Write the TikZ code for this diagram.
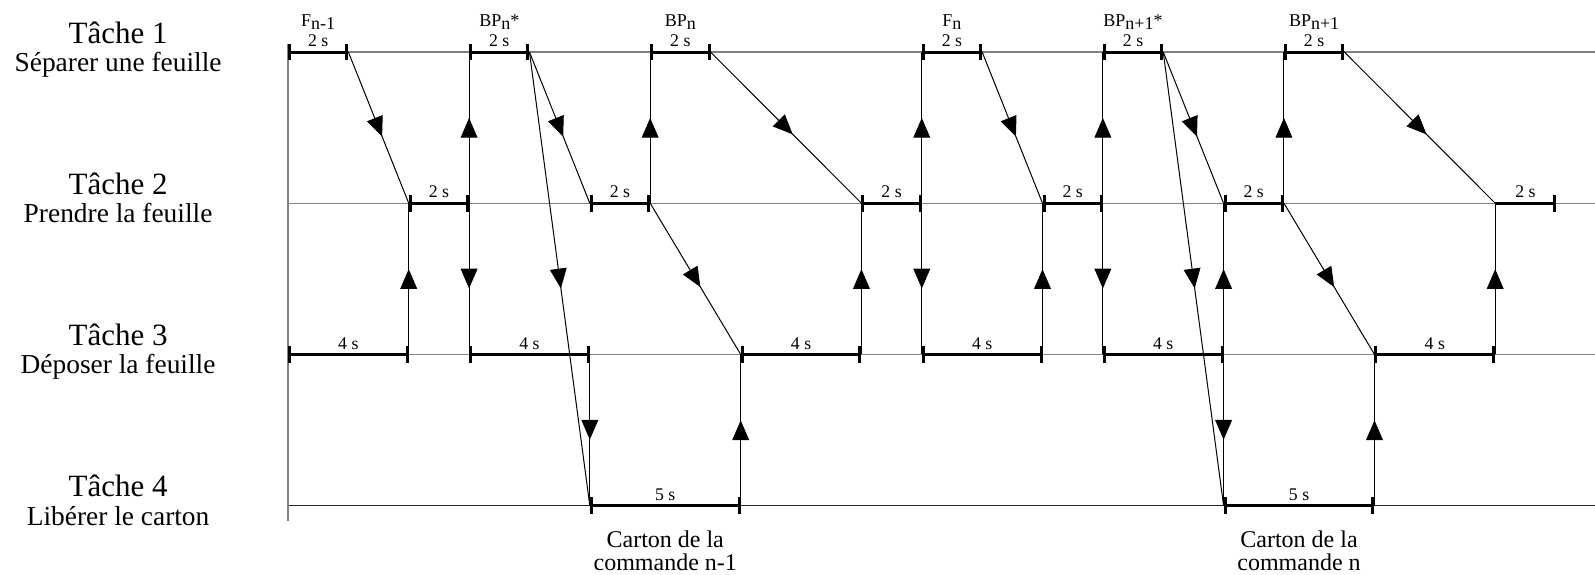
\documentclass[tikz,border=0pt]{standalone}
\usepackage{fontspec}
\setmainfont{Liberation Serif}
\usetikzlibrary{arrows.meta, positioning, calc, decorations.markings}
\newcommand{\lowtxt}[1]{\raisebox{-0.33ex}{#1}}

\begin{document}
\begin{tikzpicture}[
    x=15.09pt, y=-75.6pt,
    every node/.style={inner sep=0pt},
    tache/.style={font=\fontsize{15.5}{18}\selectfont, anchor=base},
    soustache/.style={font=\fontsize{13.7}{16}\selectfont, anchor=base},
    dur/.style={font=\fontsize{8.9}{10}\selectfont, anchor=base},
    event/.style={font=\fontsize{9}{11}\selectfont, anchor=base},
    carton/.style={font=\fontsize{12}{11.5}\selectfont, align=center, anchor=north},
    ligne/.style={draw=black!50, line width=0.6pt},
    activ/.style={line width=1.5pt, {Bar[width=8.4pt]}-{Bar[width=8.4pt]}},
    fleche/.style={line width=0.5pt, postaction={decorate},
        decoration={markings, mark=at position 0.5 with
            {\pgftransformxshift{4.85pt}\arrow{Triangle[length=9.9pt, width=8.4pt]}}}},
]
\useasboundingbox (-144pt,26pt) rectangle (653.5pt,-261pt);

% ===== Time grid: T<row>-<second> =====
\foreach \r in {1,...,4}{
    \foreach \t in {0,...,42}{
        \coordinate (T\r-\t) at (\t,\r-1);
    }
    \coordinate (E\r) at (43.31,\r-1);
    \coordinate (L\r) at (-5.63,\r-1);
}
\coordinate (axetop) at ([yshift=4pt]T1-0);
\coordinate (axebot) at ([yshift=-7.7pt]T4-0);

% ===== Task lines =====
\foreach \r in {1,2,3}
    \draw[ligne] (T\r-0) -- (E\r);
\draw[black!85, line width=0.5pt] (T4-0) -- (E4);
\draw[ligne] (axetop) -- (axebot);

% ===== Task labels =====
\foreach \r/\txt in {1/Séparer une feuille, 2/Prendre la feuille,
                     3/Déposer la feuille, 4/Libérer le carton}{
    \node[tache] (lab\r) at ([yshift=4.5pt]L\r) {Tâche \r};
    \node[soustache] (sub\r) at ([yshift=-9.7pt]L\r) {\txt};
}

% ===== Activities =====
\foreach \r/\a/\b in {1/0/2, 1/6/8, 1/12/14, 1/21/23, 1/27/29, 1/33/35,
                      2/4/6, 2/10/12, 2/19/21, 2/25/27, 2/31/33,
                      3/0/4, 3/6/10, 3/15/19, 3/21/25, 3/27/31, 3/36/40,
                      4/10/15, 4/31/36}{
    \pgfmathtruncatemacro{\d}{\b-\a}
    \draw[activ] (T\r-\a) -- (T\r-\b) node[dur, midway, yshift=2.7pt] (d\r-\a) {\d{} s};
}
\draw[line width=1.5pt, -{Bar[width=8.4pt]}] (T2-40) -- (T2-42)
    node[dur, midway, yshift=2.7pt] (d2-40) {2 s};

% ===== Sheet names =====
\foreach \t/\txt in {1/F\lowtxt{n-1}, 7/BP\lowtxt{n}*, 13/BP\lowtxt{n},
                     22/F\lowtxt{n}, 28/BP\lowtxt{n+1}*, 34/BP\lowtxt{n+1}}
    \node[event] (ev\t) at ([yshift=12.8pt]T1-\t) {\txt};

% ===== Links =====
\foreach \a/\b in {T1-2/T2-4, T1-8/T2-10, T1-14/T2-19, T1-23/T2-25, T1-29/T2-31, T1-35/T2-40,
                   T1-8/T4-10, T1-29/T4-31,
                   T2-6/T1-6, T2-12/T1-12, T2-21/T1-21, T2-27/T1-27, T2-33/T1-33,
                   T2-6/T3-6, T2-21/T3-21, T2-27/T3-27,
                   T2-12/T3-15, T2-33/T3-36,
                   T3-4/T2-4, T3-19/T2-19, T3-25/T2-25, T3-31/T2-31, T3-40/T2-40,
                   T3-10/T4-10, T3-31/T4-31,
                   T4-15/T3-15, T4-36/T3-36}
    \draw[fleche] (\a) -- (\b);

% ===== Cartons =====
\coordinate (m1) at ($(T4-10)!0.5!(T4-15)$);
\coordinate (m2) at ($(T4-31)!0.5!(T4-36)$);
\node[carton, below=12.4pt of m1] (cart1) {Carton de la\\commande n-1};
\node[carton, below=12.4pt of m2] (cart2) {Carton de la\\commande n};

\end{tikzpicture}
\end{document}
